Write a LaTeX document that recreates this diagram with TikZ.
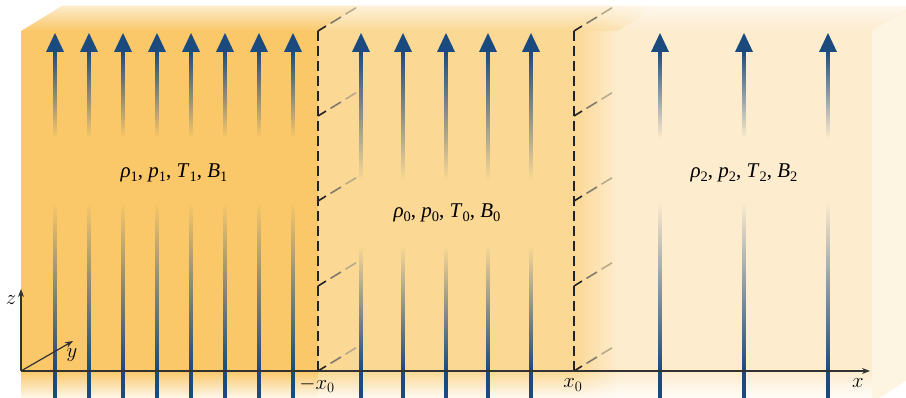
\documentclass[tikz,border=0pt]{standalone}
\usepackage{fontspec}
\setmainfont{Liberation Serif}
\usetikzlibrary{fadings,arrows.meta}
\definecolor{cA}{RGB}{250,200,105}
\definecolor{cB}{RGB}{251,216,148}
\definecolor{cC}{RGB}{253,236,206}
\definecolor{blu}{RGB}{26,74,126}
\definecolor{dk}{RGB}{35,35,35}
\definecolor{gA}{RGB}{130,122,108}
\definecolor{gB}{RGB}{185,170,140}
\definecolor{axc}{RGB}{50,50,50}
\tikzfading[name=fadetop, top color=transparent!35, bottom color=transparent!100]
\tikzfading[name=fadebot, top color=transparent!100, bottom color=transparent!8]
\newcommand\lsub[1]{\raisebox{-0.35ex}{\fontsize{14.5}{14.5}\selectfont #1}}
\newcommand\qlabel[1]{\textit{ρ}\lsub{#1}, \textit{p}\lsub{#1}, \textit{T}\lsub{#1}, \textit{B}\lsub{#1}}
\begin{document}
\begin{tikzpicture}[x=1pt,y=-1pt,
  dashv/.style={dk,line width=1.9pt,dash pattern=on 10pt off 5pt},
  axis/.style={axc,line width=1.2pt,-{Stealth[length=8pt,width=6pt]}},
  qlab/.style={font=\fontsize{21}{21}\selectfont,anchor=base},
  axlab/.style={font=\fontsize{20}{20}\selectfont,inner sep=0pt}]
\useasboundingbox (0,0) rectangle (906,398);
% front face
\fill[cA] (21,31) rectangle (318,398);
\fill[cB] (318,31) rectangle (574,398);
\shade[left color=cB, right color=cC] (574,31) rectangle (618,398);
\fill[cC] (618,31) rectangle (872,398);
% top face
\fill[cA] (21,31)--(318,31)--(359,6)--(62,6)--cycle;
\fill[cB] (318,31)--(574,31)--(615,6)--(359,6)--cycle;
\fill[cC] (618,31)--(872,31)--(913,6)--(659,6)--cycle;
\shade[left color=cB,right color=cC] (574,31)--(618,31)--(659,6)--(615,6)--cycle;
\fill[white, path fading=fadetop] (21,31)--(872,31)--(913,6)--(62,6)--cycle;
% right face
\fill[cC!60!white] (872,31)--(913,6)--(913,376)--(872,403)--cycle;
% bottom fade
\fill[white, path fading=fadebot] (21,371) rectangle (873,399);
% field lines region 1
\foreach \x in {55,89,123,157,191,225,259,293} {
  \shade[top color=blu, bottom color=cA] (\x-1.6,50) rectangle (\x+1.6,138);
  \shade[top color=cA, bottom color=blu] (\x-1.6,202) rectangle (\x+1.6,371);
  \fill[blu] (\x-1.6,370.5) rectangle (\x+1.6,398);
  \fill[blu] (\x,33)--(\x+9,52)--(\x-9,52)--cycle;
}
% region 0
\foreach \x in {361,403,446,488,531} {
  \shade[top color=blu, bottom color=cB] (\x-1.6,50) rectangle (\x+1.6,180);
  \shade[top color=cB, bottom color=blu] (\x-1.6,246) rectangle (\x+1.6,371);
  \fill[blu] (\x-1.6,370.5) rectangle (\x+1.6,398);
  \fill[blu] (\x,33)--(\x+9,52)--(\x-9,52)--cycle;
}
% region 2
\foreach \x in {660,744,828} {
  \shade[top color=blu, bottom color=cC] (\x-1.6,50) rectangle (\x+1.6,138);
  \shade[top color=cC, bottom color=blu] (\x-1.6,202) rectangle (\x+1.6,371);
  \fill[blu] (\x-1.6,370.5) rectangle (\x+1.6,398);
  \fill[blu] (\x,33)--(\x+9,52)--(\x-9,52)--cycle;
}
% boundaries
\foreach \X in {318,574} {
  \draw[dashv] (\X,371)--(\X,31);
  \foreach \Y in {31,116,201,286,371} {
    \draw[dk,line width=1.6pt] (\X,\Y)--++(8,-4.9);
    \draw[gA,line width=1.6pt] (\X+12.5,\Y-7.6)--++(10.5,-6.4);
    \draw[gB,line width=1.6pt] (\X+27.5,\Y-16.8)--++(10.5,-6.4);
  }
}
% axes
\coordinate (O) at (21,371);
\coordinate (X) at (870,371);
\coordinate (Z) at (21,289);
\coordinate (Y) at (73,341);
\draw[axis] (O)--(X);
\draw[axis] (O)--(Z);
\draw[axis] (O)--(Y);
\node[axlab] (xl) at (858,383) {$x$};
\node[axlab] (zl) at (11,300) {$z$};
\node[axlab] (yl) at (72,355) {$y$};
\node[axlab] (mx) at (317,385) {$-x_0$};
\node[axlab] (px) at (573,385) {$x_0$};
% labels
\node[qlab] (l1) at (174,178) {\qlabel{1}};
\node[qlab] (l0) at (447,218) {\qlabel{0}};
\node[qlab] (l2) at (744,178) {\qlabel{2}};
\end{tikzpicture}
\end{document}
